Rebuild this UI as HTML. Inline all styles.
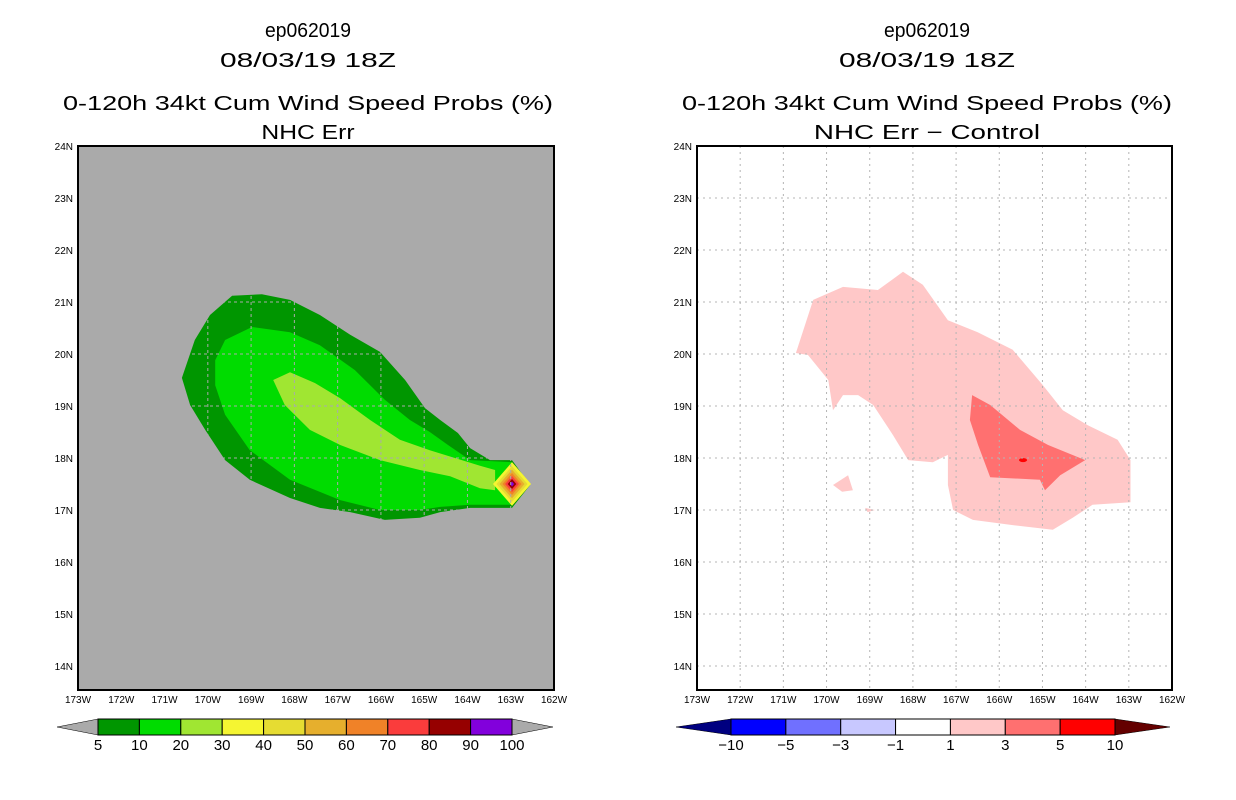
<!DOCTYPE html>
<html><head><meta charset="utf-8"><style>
body{margin:0;background:#fff;}
svg{display:block;font-family:"Liberation Sans",sans-serif;}
</style></head><body>
<svg id="chart" width="1236" height="800" viewBox="0 0 1236 800" xmlns="http://www.w3.org/2000/svg"></svg>
<script>
// ---- data (lon in deg W, lat in deg N) ----
const lonTicks = [173,172,171,170,169,168,167,166,165,164,163,162];
const latTicks = [24,23,22,21,20,19,18,17,16,15,14];
const probLevels = ['5','10','20','30','40','50','60','70','80','90','100'];
const probColors = ['#009600','#00dc00','#a0e632','#f5f532','#e6dc32','#e6af2d','#f08228','#fa3c3c','#960000','#8200dc'];
const diffLevels = ['-10','-5','-3','-1','1','3','5','10'];
const diffColors = ['#0000ff','#7070ff','#c8c8ff','#ffffff','#ffc8c8','#ff7070','#ff0000'];
const p5Lon = [170.60,170.30,169.95,169.44,168.75,168.10,167.41,166.71,166.02,165.44,164.98,164.63,164.22,163.94,163.48,162.97,162.55,162.97,163.94,164.63,165.10,165.91,166.71,167.41,168.10,169.03,169.60,170.06,170.41];
const p5Lat = [19.54,20.27,20.75,21.12,21.15,21.04,20.75,20.37,20.04,19.50,18.96,18.73,18.48,18.19,17.96,17.96,17.48,17.04,17.04,16.96,16.85,16.81,16.96,17.04,17.23,17.58,17.96,18.54,19.02];
const p10Lon = [169.83,169.60,168.98,168.10,167.41,166.60,165.91,165.33,164.87,164.45,163.94,162.97,162.67,162.97,163.94,164.63,165.10,166.02,166.94,168.10,169.03,169.60,169.83];
const p10Lat = [19.88,20.27,20.52,20.42,20.17,19.69,19.12,18.73,18.50,18.25,17.96,17.92,17.50,17.10,17.10,17.06,17.00,17.00,17.19,17.58,18.15,18.83,19.40];
const p20Lon = [168.49,168.10,167.52,166.94,166.25,165.56,164.87,164.29,163.71,163.36,163.36,163.71,164.40,165.10,166.02,166.94,167.64,168.22];
const p20Lat = [19.50,19.65,19.44,19.15,18.73,18.35,18.15,18.00,17.85,17.77,17.38,17.42,17.65,17.77,17.96,18.25,18.54,19.02];
const peakLon = 162.97, peakLat = 17.50;
const peakRadii = [0.44,0.36,0.29,0.22,0.16,0.10,0.05]; // degrees lon for levels 30..100
const d1Lon = [170.71,170.31,169.62,168.81,168.23,167.77,167.19,166.50,165.69,164.99,164.53,163.95,163.26,162.96,162.96,163.84,164.30,164.76,165.69,166.61,167.07,167.19,167.19,167.54,168.11,168.46,168.92,169.27,169.62,169.85,169.96,170.43];
const d1Lat = [20.02,21.04,21.29,21.23,21.58,21.33,20.65,20.42,20.08,19.40,18.92,18.63,18.35,17.96,17.15,17.10,16.85,16.62,16.71,16.81,17.00,17.48,18.06,17.92,17.96,18.44,19.02,19.21,19.21,18.92,19.50,19.98];
const d1bLon = [169.85,169.50,169.39,169.64];
const d1bLat = [17.48,17.67,17.38,17.35];
const d1cLon = [169.11,168.88,169.05];
const d1cLat = [17.04,17.00,16.96];
const d3Lon = [166.63,166.21,165.52,164.87,164.01,164.59,164.94,165.06,166.21,166.49,166.68];
const d3Lat = [19.21,19.02,18.54,18.25,17.96,17.67,17.38,17.58,17.63,18.25,18.73];
const d5Lon = [165.45]; const d5Lat = [17.96];

const NS='http://www.w3.org/2000/svg';
const svg=document.getElementById('chart');
function mk(tag,attrs,parent){const e=document.createElementNS(NS,tag);for(const k in attrs)e.setAttribute(k,attrs[k]);(parent||svg).appendChild(e);return e;}
function txt(s,x,y,size,parent,anchor,len){const t=mk('text',{x:x,y:y,'font-size':size,'text-anchor':anchor||'middle',fill:'#000'},parent);if(len){t.setAttribute('textLength',len);t.setAttribute('lengthAdjust','spacingAndGlyphs');}t.textContent=s;return t;}

function makePanel(x0,x1,cx,sub,name){
  const top=146,bot=690;
  const g=mk('g',{});
  
  
  const X=lon=>x0+(173-lon)*(x1-x0)/11;
  const Y=lat=>top+(24-lat)*52;
  let t;
  t=txt('ep062019',cx,37,20,g,'middle',86);
  t=txt('08/03/19 18Z',cx,67,20,g,'middle',176);
  t=txt('0-120h 34kt Cum Wind Speed Probs (%)',cx,110,20,g,'middle',490);
  t=txt(sub,cx,139,20,g,'middle',sub.length*13.3);
  return {g,X,Y,top,bot,x0,x1};
}
function poly(P,lons,lats,fill,name){
  const pts=lons.map((l,i)=>P.X(l).toFixed(1)+','+P.Y(lats[i]).toFixed(1)).join(' ');
  const p=mk('polygon',{points:pts,fill:fill},P.g);
  
  
}
function grid(P,color,dash){
  for(const lon of lonTicks){const x=P.X(lon);if(lon===173||lon===162)continue;const l=mk('line',{x1:x,x2:x,y1:P.top,y2:P.bot,stroke:color,'stroke-dasharray':dash,'stroke-width':1},P.g);}
  for(const lat of latTicks){const y=P.Y(lat);if(lat===24)continue;const l=mk('line',{x1:P.x0,x2:P.x1,y1:y,y2:y,stroke:color,'stroke-dasharray':dash,'stroke-width':1},P.g);}
}
function axes(P){
  const r=mk('rect',{x:P.x0,y:P.top,width:P.x1-P.x0,height:P.bot-P.top,fill:'none',stroke:'#000','stroke-width':2},P.g);
  
  for(const lon of lonTicks){const t=txt(lon+'W',P.X(lon),703,10,P.g);}
  for(const lat of latTicks){const t=txt(lat+'N',P.x0-5,P.Y(lat)+4,10,P.g,'end');}
}
function colorbar(g,xa,xb,ya,yb,tipL,tipR,colors,labels,lfill,rfill,name){
  const cb=mk('g',{},g);
  const ym=(ya+yb)/2,w=(xb-xa)/colors.length;
  let p=mk('polygon',{points:`${tipL},${ym} ${xa},${ya} ${xa},${yb}`,fill:lfill,stroke:'#000','stroke-width':0.5},cb);
  p=mk('polygon',{points:`${tipR},${ym} ${xb},${ya} ${xb},${yb}`,fill:rfill,stroke:'#000','stroke-width':0.5},cb);
  colors.forEach((c,i)=>{const r=mk('rect',{x:xa+i*w,y:ya,width:w,height:yb-ya,fill:c,stroke:'#000','stroke-width':1},cb);});
  labels.forEach((s,i)=>{const t=txt(s.replace('-','\u2212'),xa+i*w,yb+15,15,cb);});
}

// Left panel
const L=makePanel(78,554,308,'NHC Err','left-panel');
let bg=mk('rect',{x:78,y:146,width:476,height:544,fill:'#aaaaaa'},L.g);
poly(L,p5Lon,p5Lat,probColors[0],'contour-5pct');
poly(L,p10Lon,p10Lat,probColors[1],'contour-10pct');
poly(L,p20Lon,p20Lat,probColors[2],'contour-20pct');
peakRadii.forEach((r,i)=>{
  const cx=L.X(peakLon),cy=L.Y(peakLat),rx=r*(L.x1-L.x0)/11,ry=rx*1.15;
  const p=mk('polygon',{points:`${cx-rx},${cy} ${cx},${cy-ry} ${cx+rx},${cy} ${cx},${cy+ry}`,fill:probColors[i+3]},L.g);
  
});
grid(L,'#aaaaaa','3,3');
axes(L);
colorbar(L.g,98,512,719,735,57,553,probColors,probLevels,'#aaaaaa','#aaaaaa','prob-colorbar');

// Right panel
const R=makePanel(697,1172,927,'NHC Err \u2212 Control','right-panel');
poly(R,d1Lon,d1Lat,diffColors[4],'diff-1-3');
poly(R,d1bLon,d1bLat,diffColors[4],'diff-1-3-patch');
poly(R,d1cLon,d1cLat,diffColors[4],'diff-1-3-patch-small');
poly(R,d3Lon,d3Lat,diffColors[5],'diff-3-5');
d5Lon.forEach((l,i)=>{const e=mk('ellipse',{cx:R.X(l),cy:R.Y(d5Lat[i]),rx:4,ry:2,fill:diffColors[6]},R.g);});
grid(R,'#b4b4b4','2,4');
axes(R);
colorbar(R.g,731,1115,719,735,676,1170,diffColors,diffLevels,'#000080','#640000','diff-colorbar');
</script>
</body></html>
